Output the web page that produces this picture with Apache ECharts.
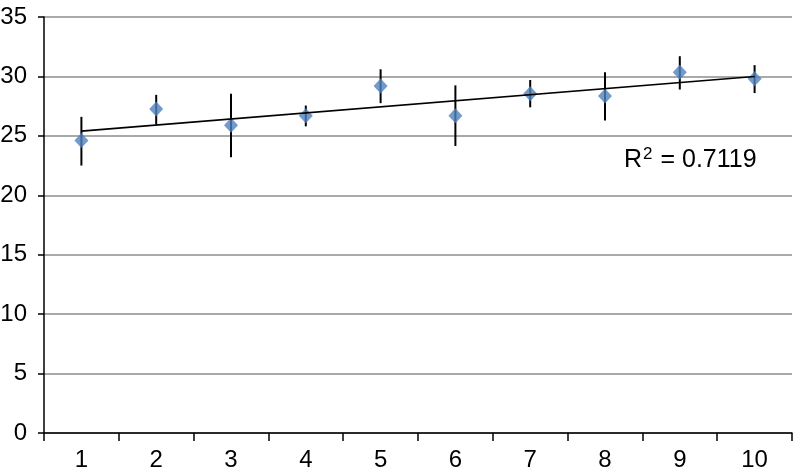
<!DOCTYPE html>
<html>
<head>
<meta charset="utf-8">
<script src="https://cdn.jsdelivr.net/npm/echarts@6/dist/echarts.min.js"></script>
<style>
  html, body { margin: 0; padding: 0; background: #fff; }
  #chart { width: 794px; height: 475px; }
</style>
</head>
<body>
<div id="chart"></div>
<script>
// values
var categories = ['1', '2', '3', '4', '5', '6', '7', '8', '9', '10'];
var means = [24.6, 27.25, 25.9, 26.7, 29.2, 26.7, 28.55, 28.35, 30.35, 29.8];
var errLow = [22.5, 25.95, 23.2, 25.8, 27.75, 24.15, 27.4, 26.3, 28.9, 28.6];
var errHigh = [26.6, 28.45, 28.55, 27.55, 30.6, 29.25, 29.7, 30.35, 31.7, 30.95];
var trendEnds = [25.4, 30.0]; // trendline at x = 1 and x = 10
var yTicks = [0, 5, 10, 15, 20, 25, 30, 35];
var rSquared = '0.7119';

var font = 'Liberation Sans, Arial, sans-serif';
var chart = echarts.init(document.getElementById('chart'));

chart.setOption({
  animation: false,
  grid: { left: 44, right: 2, top: 17, bottom: 42, outerBoundsMode: 'none', containLabel: false },
  xAxis: {
    type: 'category',
    data: categories,
    boundaryGap: true,
    axisLine: { lineStyle: { color: '#000', width: 1.5 } },
    axisTick: { show: true, length: 8, lineStyle: { color: '#000', width: 1.5 } },
    axisLabel: { color: '#000', fontSize: 24, fontFamily: font, margin: 15 },
    splitLine: { show: false }
  },
  yAxis: {
    type: 'value',
    min: yTicks[0],
    max: yTicks[yTicks.length - 1],
    interval: 5,
    axisLine: { show: true, lineStyle: { color: '#000', width: 1.5 } },
    axisTick: { show: true, length: 6, lineStyle: { color: '#000', width: 1.5 } },
    axisLabel: { color: '#000', fontSize: 24, fontFamily: font, margin: 17 },
    splitLine: { show: true, lineStyle: { color: '#8c8c8c', width: 1.5 } }
  },
  graphic: [{
    type: 'text',
    left: 624,
    top: 146,
    style: {
      text: '{r|R}{s|2}{r| = ' + rSquared + '}',
      rich: {
        r: { fontSize: 25, fontFamily: font, fill: '#000', lineHeight: 28 },
        s: { fontSize: 17, fontFamily: font, fill: '#000', verticalAlign: 'top', lineHeight: 17, padding: [0, 1, 0, 1] }
      }
    }
  }],
  series: [
    {
      // error bars
      type: 'custom',
      z: 2,
      data: categories.map(function (c, i) { return [i, errLow[i], errHigh[i]]; }),
      renderItem: function (params, api) {
        var lo = api.coord([api.value(0), api.value(1)]);
        var hi = api.coord([api.value(0), api.value(2)]);
        return {
          type: 'line',
          shape: { x1: lo[0], y1: lo[1], x2: hi[0], y2: hi[1] },
          style: { stroke: '#000', lineWidth: 2 }
        };
      }
    },
    {
      type: 'scatter',
      z: 3,
      symbol: 'diamond',
      symbolSize: [14, 15],
      itemStyle: { color: '#4f81bd' },
      data: means
    },
    {
      // linear trendline
      type: 'line',
      z: 4,
      symbol: 'none',
      lineStyle: { color: '#000', width: 1.6 },
      data: [[0, trendEnds[0]], [categories.length - 1, trendEnds[1]]]
    }
  ]
});
</script>
</body>
</html>
